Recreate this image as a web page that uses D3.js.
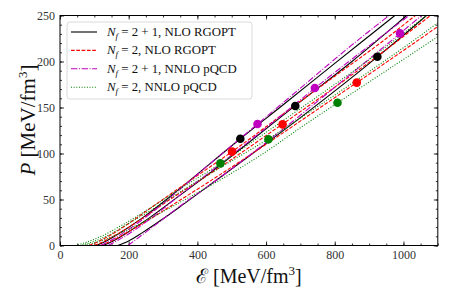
<!DOCTYPE html>
<html>
<head>
<meta charset="utf-8">
<script src="https://cdn.jsdelivr.net/npm/d3@7"></script>
<style>
  html, body { margin: 0; padding: 0; background: #fff; overflow: hidden; }
  svg { display: block; }
  svg text { font-family: "Liberation Serif", "DejaVu Serif", serif; }
</style>
</head>
<body>
<div id="chart"></div>
<script>
// Tick values
const xTicks = [0, 200, 400, 600, 800, 1000];
const yTicks = [0, 50, 100, 150, 200, 250];

// Curves [energy density, pressure] (three scale choices per family)
const nf21NloRgopt = [
  [[105, 0], [140, 6], [180, 15], [240, 30], [320, 53], [437, 89], [525, 116], [650, 153], [800, 198], [975, 250], [1100, 288]],
  [[125, 0], [160, 6], [200, 15], [260, 30], [340, 52], [437, 79], [560, 115], [685, 152], [850, 200], [1000, 247], [1100, 279]],
  [[168, 0], [200, 5], [240, 14], [300, 29], [360, 45], [437, 66], [550, 97], [700, 139], [924, 205], [1067, 250], [1100, 261]],
];
const nf2NloRgopt = [
  [[85, 0], [115, 5], [150, 12], [200, 24], [280, 45], [400, 76], [501, 102], [650, 143], [800, 184], [950, 225], [1035, 250], [1100, 268]],
  [[100, 0], [130, 5], [170, 13], [230, 27], [320, 50], [437, 78], [648, 132], [800, 172], [950, 213], [1079, 250], [1100, 256]],
  [[118, 0], [150, 5], [190, 13], [250, 26], [340, 47], [437, 70], [600, 110], [750, 148], [864, 177], [1000, 212], [1100, 238]],
];
const nf21NnloPqcd = [
  [[118, 0], [150, 6], [190, 15], [250, 31], [330, 55], [437, 89], [575, 132], [700, 171], [850, 218], [958, 250], [1100, 292]],
  [[140, 0], [170, 6], [210, 15], [270, 31], [350, 55], [437, 80], [600, 128], [742, 171], [900, 217], [1016, 250], [1100, 275]],
  [[198, 0], [230, 9], [280, 23], [350, 43], [437, 66], [600, 112], [800, 172], [990, 230.5], [1100, 265]],
];
const nf2NnloPqcd = [
  [[45, 0], [80, 4], [120, 10], [180, 22], [260, 40], [360, 64], [467, 89], [600, 123], [750, 162], [900, 202], [1050, 245], [1100, 259]],
  [[58, 0], [95, 4], [140, 11], [200, 24], [290, 44], [400, 70], [500, 92], [607, 116], [750, 151], [900, 189], [1000, 215], [1100, 242]],
  [[70, 0], [110, 4], [160, 11], [230, 23], [320, 41], [437, 65], [600, 102], [700, 128], [808, 155], [950, 190], [1100, 227]],
];

// Marked points on each curve
const nf21NloRgoptPoints = [[525, 116], [685, 151.6], [924, 205.2]];
const nf2NloRgoptPoints = [[501, 102], [648, 131.7], [864, 177]];
const nf21NnloPqcdPoints = [[575, 132], [742, 171.2], [990, 230.6]];
const nf2NnloPqcdPoints = [[467, 89.3], [607, 115.4], [808, 155.2]];

const legendLabels = [
  ["2 + 1", "NLO RGOPT"],
  ["2", "NLO RGOPT"],
  ["2 + 1", "NNLO pQCD"],
  ["2", "NNLO pQCD"],
];

const width = 449;
const height = 299;
const margin = { top: 15.5, right: 11.2, bottom: 53.5, left: 60 };
const innerWidth = width - margin.left - margin.right;
const innerHeight = height - margin.top - margin.bottom;

const svg = d3
  .select("#chart")
  .append("svg")
  .attr("width", width)
  .attr("height", height);

const g = svg.append("g").attr("transform", `translate(${margin.left},${margin.top})`);

const xScale = d3.scaleLinear().domain([0, 1100]).range([0, innerWidth]);
const yScale = d3.scaleLinear().domain([0, 250]).range([innerHeight, 0]);

g.append("clipPath")
  .attr("id", "plot-clip")
  .append("rect")
  .attr("width", innerWidth)
  .attr("height", innerHeight);

// Axes, ticks pointing inward on all four sides
const minorX = d3.range(0, 1101, 50);
const minorY = d3.range(0, 251, 10);

function addAxis(axis, transform, major, minor, labels) {
  const a = g.append("g").attr("transform", transform);
  a.call(axis.tickValues(minor).tickSize(-2).tickFormat(""));
  a.selectAll("text").remove();
  const b = g.append("g").attr("transform", transform);
  b.call(axis.tickValues(major).tickSize(-4).tickPadding(5).tickFormat(d3.format("d")));
  if (!labels) b.selectAll("text").remove();
  [a, b].forEach((s) => {
    s.select(".domain").remove();
    s.selectAll("line").attr("stroke", "#000").attr("stroke-width", 0.8);
    s.selectAll("text").attr("font-size", 12).attr("fill", "#333");
  });
}

addAxis(d3.axisBottom(xScale), `translate(0,${innerHeight})`, xTicks, minorX, true);
addAxis(d3.axisTop(xScale), "translate(0,0)", xTicks, minorX, false);
addAxis(d3.axisLeft(yScale), "translate(0,0)", yTicks, minorY, true);
addAxis(d3.axisRight(yScale), `translate(${innerWidth},0)`, yTicks, minorY, false);

// Curves
const line = d3
  .line()
  .x((d) => xScale(d[0]))
  .y((d) => yScale(d[1]))
  .curve(d3.curveMonotoneX);

const families = [
  { curves: nf21NloRgopt, points: nf21NloRgoptPoints, color: "#000000", dash: null },
  { curves: nf2NloRgopt, points: nf2NloRgoptPoints, color: "#ff0000", dash: "3.7,1.6" },
  { curves: nf21NnloPqcd, points: nf21NnloPqcdPoints, color: "#bf00bf", dash: "6.4,1.6,1,1.6" },
  { curves: nf2NnloPqcd, points: nf2NnloPqcdPoints, color: "#008000", dash: "1,1.65" },
];

const plot = g.append("g").attr("clip-path", "url(#plot-clip)");

families.forEach((f) => {
  plot
    .selectAll(null)
    .data(f.curves)
    .enter()
    .append("path")
    .attr("d", line)
    .attr("fill", "none")
    .attr("stroke", f.color)
    .attr("stroke-width", 1.1)
    .attr("stroke-dasharray", f.dash);
});

families.forEach((f) => {
  plot
    .selectAll(null)
    .data(f.points)
    .enter()
    .append("circle")
    .attr("cx", (d) => xScale(d[0]))
    .attr("cy", (d) => yScale(d[1]))
    .attr("r", 4.3)
    .attr("fill", f.color);
});

// Frame
g.append("rect")
  .attr("width", innerWidth)
  .attr("height", innerHeight)
  .attr("fill", "none")
  .attr("stroke", "#000")
  .attr("stroke-width", 1);

// Legend
const legend = g.append("g").attr("transform", "translate(7,6.5)");
legend
  .append("rect")
  .attr("width", 185)
  .attr("height", 77)
  .attr("rx", 3)
  .attr("fill", "#fff")
  .attr("fill-opacity", 0.8)
  .attr("stroke", "#d0d0d0")
  .attr("stroke-width", 0.8);

families.forEach((f, i) => {
  const row = legend.append("g").attr("transform", `translate(0,${10 + i * 18.4})`);
  row
    .append("line")
    .attr("x1", 4)
    .attr("x2", 30)
    .attr("stroke", f.color)
    .attr("stroke-width", 1.1)
    .attr("stroke-dasharray", f.dash);
  const t = row.append("text").attr("x", 40).attr("y", 4).attr("font-size", 12.8).attr("fill", "#111");
  t.append("tspan").attr("font-style", "italic").text("N");
  t.append("tspan").attr("font-style", "italic").attr("font-size", 9).attr("dy", 3).text("f");
  t.append("tspan").attr("dy", -3).text(`\u00a0=\u00a0${legendLabels[i][0].replace(/ /g, "\u00a0")},\u00a0${legendLabels[i][1]}`);
});

// Axis titles
const xTitle = svg
  .append("text")
  .attr("x", margin.left + innerWidth / 2)
  .attr("y", 283)
  .attr("text-anchor", "middle")
  .attr("font-size", 20)
  .attr("fill", "#111");
xTitle.append("tspan").text("\u2130");
xTitle.append("tspan").text("\u00a0[MeV/fm");
xTitle.append("tspan").attr("font-size", 13).attr("dy", -8).text("3");
xTitle.append("tspan").attr("dy", 8).text("]");

const yTitle = svg
  .append("text")
  .attr("transform", "translate(35,120) rotate(-90)")
  .attr("text-anchor", "middle")
  .attr("font-size", 21)
  .attr("fill", "#111");
yTitle.append("tspan").attr("font-style", "italic").text("P");
yTitle.append("tspan").text("\u00a0[MeV/fm");
yTitle.append("tspan").attr("font-size", 13).attr("dy", -8).text("3");
yTitle.append("tspan").attr("dy", 8).text("]");
</script>
</body>
</html>
